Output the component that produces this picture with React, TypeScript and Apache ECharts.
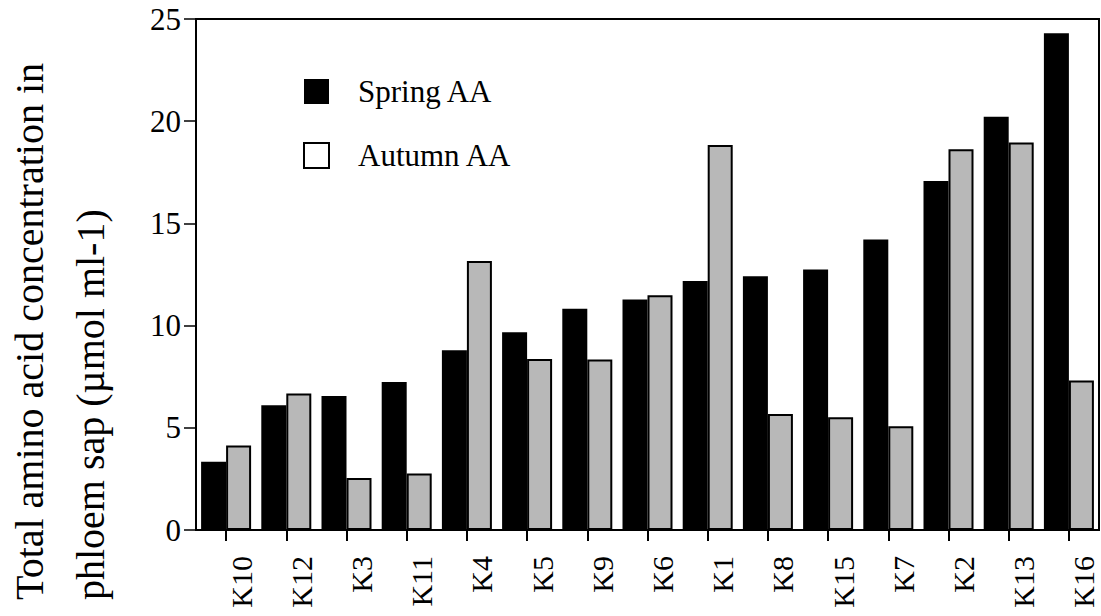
import React, { useEffect, useRef } from "react";
import * as echarts from "echarts";

const categories = ["K10", "K12", "K3", "K11", "K4", "K5", "K9", "K6", "K1", "K8", "K15", "K7", "K2", "K13", "K16"];
const springAA = [3.34, 6.1, 6.55, 7.24, 8.8, 9.67, 10.83, 11.28, 12.18, 12.41, 12.74, 14.21, 17.08, 20.22, 24.3];
const autumnAA = [4.13, 6.68, 2.55, 2.76, 13.16, 8.37, 8.34, 11.48, 18.83, 5.68, 5.52, 5.08, 18.63, 18.96, 7.31];
const seriesNames = ["Spring AA", "Autumn AA"];
const yTitleLines = ["Total amino acid concentration in", "phloem sap (\u00b5mol ml-1)"];
const yMin = 0;
const yMax = 25;
const yInterval = 5;

const FONT = '"Liberation Serif", "Times New Roman", serif';

export default function App() {
  const ref = useRef<HTMLDivElement>(null);

  useEffect(() => {
    if (!ref.current) return;
    const chart = echarts.init(ref.current, null, { renderer: "svg" });
    chart.setOption({
      animation: false,
      backgroundColor: "#fff",
      grid: {
        left: 196,
        right: 2,
        top: 19,
        bottom: 86,
        show: true,
        borderColor: "#000",
        borderWidth: 2,
        backgroundColor: "transparent",
      },
      legend: {
        orient: "vertical",
        left: 298,
        top: 71,
        itemWidth: 25,
        itemHeight: 25,
        itemGap: 33,
        icon: "rect",
        textStyle: { fontFamily: FONT, fontSize: 31, color: "#000", padding: [0, 0, 0, 24] },
        data: [
          { name: seriesNames[0], itemStyle: { color: "#000" } },
          { name: seriesNames[1], itemStyle: { color: "#fff", borderColor: "#000", borderWidth: 2 } },
        ],
      },
      xAxis: {
        type: "category",
        data: categories,
        axisLine: { show: true, lineStyle: { color: "#000", width: 2 } },
        axisTick: { show: true, alignWithLabel: true, length: 11, lineStyle: { color: "#000", width: 2 } },
        axisLabel: {
          rotate: 90,
          margin: 26,
          fontFamily: FONT,
          fontSize: 30,
          lineHeight: 30,
          color: "#000",
          verticalAlign: "top",
        },
      },
      yAxis: {
        type: "value",
        min: yMin,
        max: yMax,
        interval: yInterval,
        splitLine: { show: false },
        axisLine: { show: true, lineStyle: { color: "#000", width: 2 } },
        axisTick: { show: true, length: 12, lineStyle: { color: "#000", width: 1.5 } },
        axisLabel: { margin: 15, fontFamily: FONT, fontSize: 31, color: "#000" },
      },
      graphic: yTitleLines.map((line, i) => ({
        type: "text",
        x: i === 0 ? 29 : 90,
        y: 600,
        rotation: Math.PI / 2,
        style: {
          text: line,
          fontFamily: FONT,
          fontSize: 40,
          fill: "#000",
          align: "left",
          verticalAlign: "middle",
        },
      })),
      series: [
        {
          name: seriesNames[0],
          type: "bar",
          data: springAA,
          barWidth: 25,
          barGap: "0%",
          itemStyle: { color: "#000" },
        },
        {
          name: seriesNames[1],
          type: "bar",
          data: autumnAA,
          barWidth: 25,
          barGap: "0%",
          itemStyle: { color: "#b8b8b8", borderColor: "#000", borderWidth: 2 },
        },
      ],
    });
    return () => chart.dispose();
  }, []);

  return (
    <div
      ref={ref}
      style={{ position: "fixed", left: 0, top: 0, width: 1101, height: 616, background: "#fff" }}
    />
  );
}
